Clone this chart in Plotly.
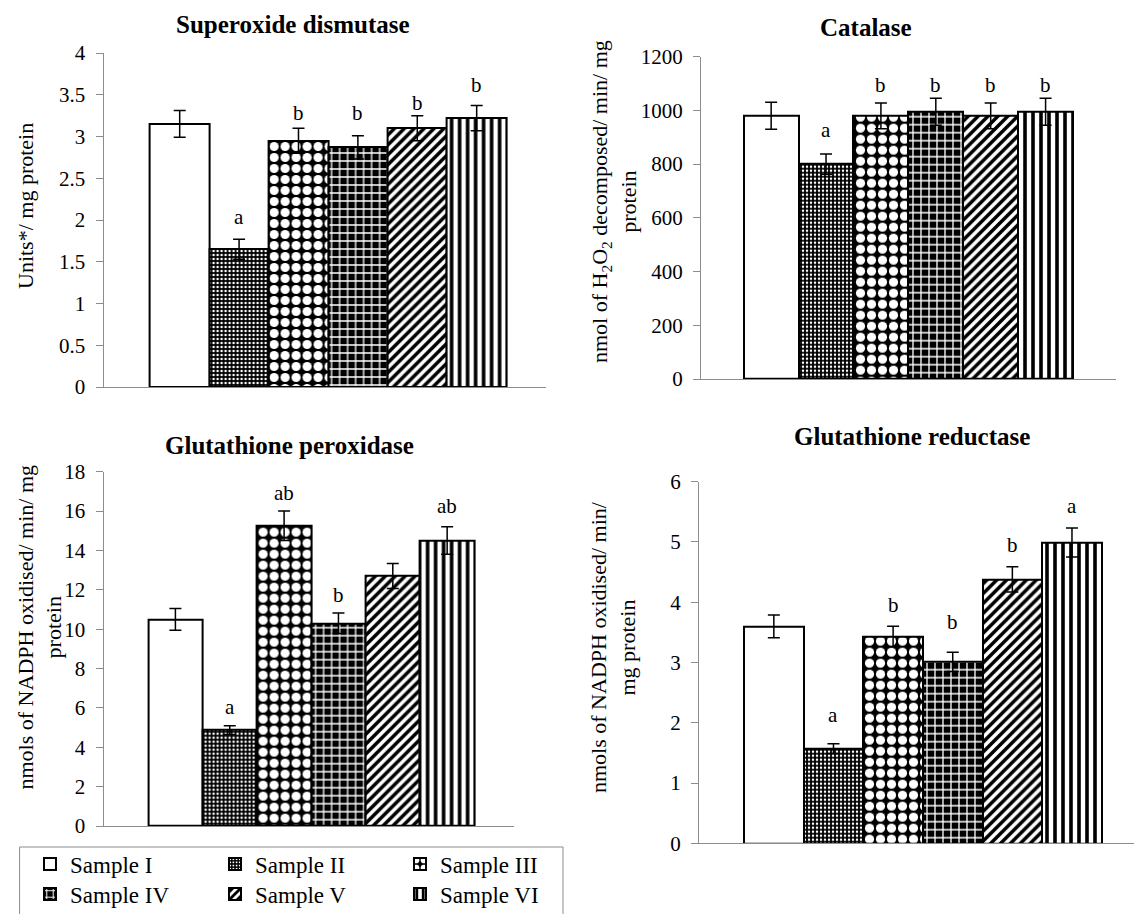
import plotly.graph_objects as go

samples = ["Sample I", "Sample II", "Sample III", "Sample IV", "Sample V", "Sample VI"]

sod_mean = [3.15, 1.65, 2.95, 2.87, 3.10, 3.22]
sod_err = [0.16, 0.12, 0.15, 0.14, 0.15, 0.15]
sod_letters = ["", "a", "b", "b", "b", "b"]
sod_letter_y = [None, 2.04, 3.28, 3.28, 3.40, 3.62]

cat_mean = [980, 800, 980, 995, 980, 995]
cat_err = [50, 38, 48, 50, 48, 50]
cat_letters = ["", "a", "b", "b", "b", "b"]
cat_letter_y = [None, 927, 1095, 1095, 1095, 1095]

gpx_mean = [10.5, 4.87, 15.25, 10.3, 12.7, 14.5]
gpx_err = [0.55, 0.22, 0.75, 0.52, 0.63, 0.70]
gpx_letters = ["", "a", "ab", "b", "", "ab"]
gpx_letter_y = [None, 6.06, 16.94, 11.74, None, 16.26]

gr_mean = [3.60, 1.57, 3.43, 3.01, 4.38, 4.99]
gr_err = [0.19, 0.08, 0.17, 0.16, 0.21, 0.24]
gr_letters = ["", "a", "b", "b", "b", "a"]
gr_letter_y = [None, 2.13, 3.95, 3.68, 4.95, 5.60]

titles = ["Superoxide dismutase", "Catalase", "Glutathione peroxidase", "Glutathione reductase"]
ytitles = [
    "Units*/ mg protein",
    "nmol of H<sub>2</sub>O<sub>2</sub> decomposed/ min/ mg<br>protein",
    "nmols of NADPH oxidised/ min/ mg<br>protein",
    "nmols of NADPH oxidised/ min/<br>mg protein",
]

FONT = "Liberation Serif, Times New Roman, Tinos, DejaVu Serif, serif"

patterns = [
    dict(shape="", bgcolor="white"),
    dict(shape=".", fgcolor="white", bgcolor="black", size=4, solidity=0.3, fillmode="replace"),
    dict(shape=".", fgcolor="white", bgcolor="black", size=11, solidity=0.55, fillmode="replace"),
    dict(shape="+", fgcolor="white", bgcolor="black", size=8, solidity=0.3, fillmode="replace"),
    dict(shape="/", fgcolor="black", bgcolor="white", size=7, solidity=0.5, fillmode="replace"),
    dict(shape="|", fgcolor="black", bgcolor="white", size=8, solidity=0.45, fillmode="replace"),
]

panels = [
    (sod_mean, sod_err, sod_letters, sod_letter_y),
    (cat_mean, cat_err, cat_letters, cat_letter_y),
    (gpx_mean, gpx_err, gpx_letters, gpx_letter_y),
    (gr_mean, gr_err, gr_letters, gr_letter_y),
]

W, H = 1134, 914
def px(x):
    return x / W
def py(y):
    return 1 - y / H

geo = [
    dict(x=(103.6, 546), y=(53, 387), xr=[-1.281, 6.167], yr=[0, 4], dt=0.5),
    dict(x=(701, 1116), y=(56.7, 379), xr=[-1.278, 6.283], yr=[0, 1200], dt=200),
    dict(x=(103.6, 514), y=(471.7, 826), xr=[-1.321, 6.23], yr=[0, 18], dt=2),
    dict(x=(699, 1134), y=(481.7, 843.3), xr=[-1.255, 6.04], yr=[0, 6], dt=1),
]
title_pos = [(293, 24), (866, 28), (289, 445), (912, 436)]
ytitle_pos = [(25, 206), (614, 202), (39.5, 627), (613, 647)]

fig = go.Figure()
annotations = []
layout_axes = {}

for p, (means, errs, letters, ly) in enumerate(panels):
    sfx = "" if p == 0 else str(p + 1)
    xa, ya = "x" + sfx, "y" + sfx
    for i, s in enumerate(samples):
        fig.add_trace(go.Bar(
            x=[s], y=[means[i]], name=s, width=1,
            xaxis=xa, yaxis=ya, legendgroup=s, showlegend=(p == 0),
            legend="legend" if i < 3 else "legend2",
            marker=dict(color="white", pattern=patterns[i],
                        line=dict(color="black", width=2)),
            error_y=dict(type="data", array=[errs[i]], visible=True,
                         color="black", thickness=1.5, width=6),
        ))
        if letters[i]:
            annotations.append(dict(
                x=s, y=ly[i], xref=xa, yref=ya, text=letters[i],
                showarrow=False, xanchor="center", yanchor="middle",
                font=dict(family=FONT, size=21, color="black")))
    g = geo[p]
    layout_axes["xaxis" + sfx] = dict(
        domain=[px(g["x"][0]), px(g["x"][1])], anchor=ya,
        type="category", categoryorder="array", categoryarray=samples,
        range=g["xr"], showticklabels=False, ticks="", showgrid=False,
        showline=True, linecolor="#8c8c8c", linewidth=1.2, zeroline=False,
        fixedrange=True, automargin=False)
    layout_axes["yaxis" + sfx] = dict(
        domain=[py(g["y"][1]), py(g["y"][0])], anchor=xa,
        range=g["yr"], dtick=g["dt"], tick0=0, showgrid=False, zeroline=False,
        showline=True, linecolor="#8c8c8c", linewidth=1.2,
        ticks="outside", ticklen=7, tickcolor="#8c8c8c", tickwidth=1.2,
        ticklabelstandoff=6, automargin=False, fixedrange=True,
        tickfont=dict(family=FONT, size=21, color="black"))
    annotations.append(dict(
        x=px(title_pos[p][0]), y=py(title_pos[p][1]), xref="paper", yref="paper",
        text="<b>" + titles[p] + "</b>", showarrow=False,
        xanchor="center", yanchor="middle",
        font=dict(family=FONT, size=25, color="black")))
    annotations.append(dict(
        x=px(ytitle_pos[p][0]), y=py(ytitle_pos[p][1]), xref="paper", yref="paper",
        text=ytitles[p], showarrow=False, textangle=-90,
        xanchor="center", yanchor="middle",
        font=dict(family=FONT, size=22, color="black")))

legend_common = dict(
    orientation="h", xanchor="left", yanchor="middle",
    entrywidth=140, entrywidthmode="pixels",
    borderwidth=0, bgcolor="rgba(0,0,0,0)",
    font=dict(family=FONT, size=23, color="black"),
    traceorder="normal", itemclick=False, itemdoubleclick=False)

fig.update_layout(
    width=W, height=H,
    margin=dict(l=0, r=0, t=0, b=0, autoexpand=False),
    paper_bgcolor="white", plot_bgcolor="white",
    barmode="overlay", bargap=0,
    showlegend=True, hovermode=False,
    legend=dict(x=px(30), y=py(864), **legend_common),
    legend2=dict(x=px(30), y=py(894), **legend_common),
    shapes=[dict(type="rect", xref="paper", yref="paper",
                 x0=px(19.6), x1=px(563), y0=py(930), y1=py(847),
                 line=dict(color="#8c8c8c", width=1), fillcolor="rgba(0,0,0,0)",
                 layer="below")],
    annotations=annotations,
    **layout_axes,
)

fig.write_html(
    "out.html",
    config={"displayModeBar": False, "staticPlot": False},
    post_script="document.body.style.margin='0';document.body.style.overflow='hidden';",
)
